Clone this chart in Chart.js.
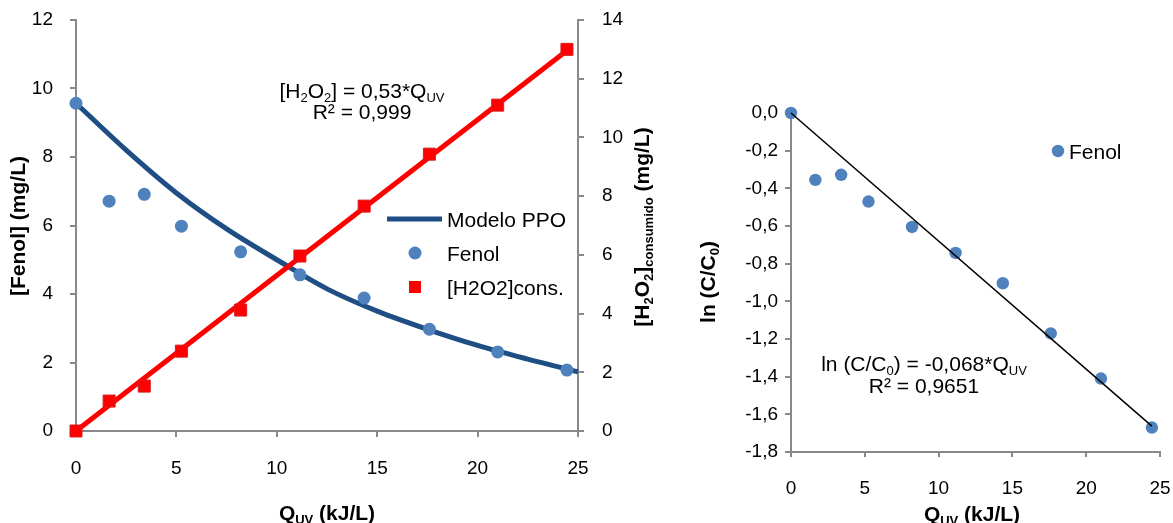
<!DOCTYPE html>
<html>
<head>
<meta charset="utf-8">
<script src="https://cdn.jsdelivr.net/npm/chart.js@4.4.1/dist/chart.umd.min.js"></script>
<style>
  body { margin: 0; background: #fff; width: 1173px; height: 523px; overflow: hidden; position: relative; }
  canvas { position: absolute; top: 0; }
</style>
</head>
<body>
<canvas id="fenolChart" width="680" height="523" style="left:0"></canvas>
<canvas id="lnChart" width="493" height="523" style="left:680px"></canvas>
<script>
// dose UV acumulada (kJ/L) de cada muestra
const qUV = [0, 1.65, 3.4, 5.25, 8.2, 11.15, 14.35, 17.6, 21.0, 24.45];
const fenol = [9.57, 6.71, 6.91, 5.98, 5.23, 4.56, 3.88, 2.97, 2.31, 1.78];
const h2o2Cons = [0, 1.02, 1.53, 2.72, 4.12, 5.96, 7.66, 9.43, 11.1, 13.0];
const lnCC0 = [0, -0.355, -0.328, -0.47, -0.605, -0.743, -0.904, -1.17, -1.41, -1.67];

// curva del modelo PPO
const modeloQ = [0, 2.5, 5, 7.5, 10, 12.5, 15, 17.5, 20, 22.5, 25];
const modeloPPO = [9.57, 8.2, 6.95, 5.9, 5.0, 4.15, 3.5, 2.97, 2.5, 2.1, 1.73];

// ajustes lineales
const h2o2Slope = 0.53, h2o2R2 = '0,999';
const lnSlope = -0.068, lnR2 = '0,9651';

// ticks
const qTicks = [0, 5, 10, 15, 20, 25];
const fenolTicks = [0, 2, 4, 6, 8, 10, 12];
const h2o2Ticks = [0, 2, 4, 6, 8, 10, 12, 14];
const lnTicks = [-1.8, -1.6, -1.4, -1.2, -1.0, -0.8, -0.6, -0.4, -0.2, 0];

const FONT = '"Liberation Sans", Arial, sans-serif';
const GREY = '#898989';
const BLUE = '#4F81BD';
const NAVY = '#1F4E85';
const RED = '#FF0000';

Chart.defaults.font.family = FONT;
Chart.defaults.color = '#000';

const comma = v => String(v).replace('.', ',');
const pts = (xs, ys) => xs.map((x, i) => ({ x: x, y: ys[i] }));

// ancho/alto fijo del eje, sin margen extra por las etiquetas
const fixSize = (w, h) => s => {
  if (w !== undefined) s.width = w;
  if (h !== undefined) s.height = h;
  s.paddingTop = s.paddingBottom = s.paddingLeft = s.paddingRight = 0;
};

function axis(ticks, min, max, opts) {
  return Object.assign({
    type: 'linear',
    min: min,
    max: max,
    afterBuildTicks: s => { s.ticks = ticks.map(v => ({ value: v })); },
    grid: { drawOnChartArea: false, drawTicks: true, tickLength: 6, color: GREY, lineWidth: 2 },
    border: { color: GREY, width: 2 },
    ticks: { font: { size: 19 }, color: '#000', maxRotation: 0, padding: 20 }
  }, opts);
}

// texto con subíndices: parts = [[texto, esSub], ...]
function richText(ctx, it) {
  const size = it.size || 21;
  const weight = it.bold ? 'bold ' : '';
  const fontFor = sub => weight + (sub ? Math.round(size * 0.62) : size) + 'px ' + FONT;
  ctx.save();
  ctx.translate(it.x, it.y);
  if (it.rotate) ctx.rotate(-Math.PI / 2);
  ctx.fillStyle = '#000';
  ctx.textBaseline = 'alphabetic';
  let w = 0;
  it.parts.forEach(([t, sub]) => { ctx.font = fontFor(sub); w += ctx.measureText(t).width; });
  let x = it.align === 'left' ? 0 : -w / 2;
  const y = size * 0.36;
  it.parts.forEach(([t, sub]) => {
    ctx.font = fontFor(sub);
    ctx.fillText(t, x, sub ? y + size * 0.2 : y);
    x += ctx.measureText(t).width;
  });
  ctx.restore();
}

const textPlugin = {
  id: 'textos',
  afterDraw(chart, args, opts) {
    const ctx = chart.ctx;
    (opts.legend || []).forEach(l => {
      const ds = chart.data.datasets[l.ds];
      ctx.save();
      if (l.kind === 'line') {
        ctx.strokeStyle = ds.borderColor;
        ctx.lineWidth = ds.borderWidth;
        ctx.beginPath();
        ctx.moveTo(l.x - 28, l.y);
        ctx.lineTo(l.x + 27, l.y);
        ctx.stroke();
      } else if (l.kind === 'rect') {
        ctx.fillStyle = ds.backgroundColor;
        ctx.fillRect(l.x - 6, l.y - 6, 12, 12);
      } else {
        ctx.fillStyle = ds.backgroundColor;
        ctx.beginPath();
        ctx.arc(l.x, l.y, ds.pointRadius, 0, Math.PI * 2);
        ctx.fill();
      }
      ctx.restore();
      richText(ctx, { x: l.tx, y: l.y, parts: [[ds.label]], align: 'left' });
    });
    (opts.items || []).forEach(it => richText(ctx, it));
  }
};

// ---------- [Fenol] y [H2O2] frente a Q_UV ----------
new Chart(document.getElementById('fenolChart'), {
  type: 'scatter',
  data: {
    datasets: [
      { label: 'Fenol', data: pts(qUV, fenol), yAxisID: 'y', backgroundColor: BLUE,
        pointRadius: 6.5, borderWidth: 0, order: 0, clip: false },
      { label: '[H2O2]cons.', data: pts(qUV, h2o2Cons), yAxisID: 'y2', backgroundColor: RED,
        borderColor: '#D81E1E', borderWidth: 1, pointStyle: 'rect', pointRadius: 8.5, order: 0, clip: false },
      { label: 'ajuste H2O2', yAxisID: 'y2', showLine: true, pointRadius: 0, borderColor: RED, borderWidth: 5,
        data: [{ x: 0, y: 0 }, { x: qUV[qUV.length - 1], y: h2o2Slope * qUV[qUV.length - 1] }], order: 1, clip: false },
      { label: 'Modelo PPO', data: pts(modeloQ, modeloPPO), yAxisID: 'y', showLine: true, pointRadius: 0,
        borderColor: NAVY, borderWidth: 5, cubicInterpolationMode: 'monotone', order: 2, clip: false }
    ]
  },
  options: {
    responsive: false,
    animation: false,
    layout: { padding: { top: 20, left: 0, right: 0, bottom: 0 } },
    scales: {
      x: axis(qTicks, 0, 25, { afterFit: fixSize(undefined, 92) }),
      y: axis(fenolTicks, 0, 12, { position: 'left', afterFit: fixSize(76),
        ticks: { font: { size: 19 }, color: '#000', padding: 17 } }),
      y2: axis(h2o2Ticks, 0, 14, { position: 'right', afterFit: fixSize(102),
        ticks: { font: { size: 19 }, color: '#000', padding: 18 } })
    },
    plugins: {
      legend: { display: false },
      tooltip: { enabled: false },
      textos: {
        legend: [
          { ds: 3, kind: 'line', x: 415, y: 219, tx: 447 },
          { ds: 0, kind: 'dot', x: 415, y: 253, tx: 447 },
          { ds: 1, kind: 'rect', x: 415, y: 287, tx: 447 }
        ],
        items: [
          { x: 327, y: 512, bold: true, parts: [['Q'], ['UV', 1], [' (kJ/L)']] },
          { x: 17, y: 226, bold: true, rotate: true, parts: [['[Fenol] (mg/L)']] },
          { x: 641, y: 227, bold: true, rotate: true,
            parts: [['[H'], ['2', 1], ['O'], ['2', 1], [']'], ['consumido', 1], [' (mg/L)']] },
          { x: 362, y: 90, parts: [['[H'], ['2', 1], ['O'], ['2', 1], ['] = ' + comma(h2o2Slope) + '*Q'], ['UV', 1]] },
          { x: 362, y: 111, parts: [['R² = ' + h2o2R2]] }
        ]
      }
    }
  },
  plugins: [textPlugin]
});

// ---------- ln(C/C0) frente a Q_UV ----------
new Chart(document.getElementById('lnChart'), {
  type: 'scatter',
  data: {
    datasets: [
      { label: 'ajuste ln', showLine: true, pointRadius: 0, borderColor: '#000', borderWidth: 1.5,
        data: [{ x: 0, y: 0 }, { x: qUV[qUV.length - 1], y: lnSlope * qUV[qUV.length - 1] }], order: 0, clip: false },
      { label: 'Fenol', data: pts(qUV, lnCC0), backgroundColor: BLUE, pointRadius: 6.2, borderWidth: 0,
        order: 1, clip: false }
    ]
  },
  options: {
    responsive: false,
    animation: false,
    layout: { padding: { top: 113, left: 0, right: 13, bottom: 0 } },
    scales: {
      x: axis(qTicks, 0, 25, { afterFit: fixSize(undefined, 71),
        grid: { drawOnChartArea: false, drawTicks: true, tickLength: 5, color: GREY, lineWidth: 2 },
        ticks: { font: { size: 19 }, color: '#000', padding: 20, maxRotation: 0 } }),
      y: axis(lnTicks, -1.8, 0, { position: 'left', afterFit: fixSize(111),
        ticks: { font: { size: 19 }, color: '#000', padding: 7, callback: v => v.toFixed(1).replace('.', ',') } })
    },
    plugins: {
      legend: { display: false },
      tooltip: { enabled: false },
      textos: {
        legend: [{ ds: 1, kind: 'dot', x: 378, y: 151, tx: 389 }],
        items: [
          { x: 292, y: 513, bold: true, parts: [['Q'], ['UV', 1], [' (kJ/L)']] },
          { x: 27, y: 282, bold: true, rotate: true, parts: [['ln (C/C'], ['0', 1], [')']] },
          { x: 244, y: 363, parts: [['ln (C/C'], ['0', 1], [') = ' + comma(lnSlope) + '*Q'], ['UV', 1]] },
          { x: 244, y: 385, parts: [['R² = ' + lnR2]] }
        ]
      }
    }
  },
  plugins: [textPlugin]
});
</script>
</body>
</html>
